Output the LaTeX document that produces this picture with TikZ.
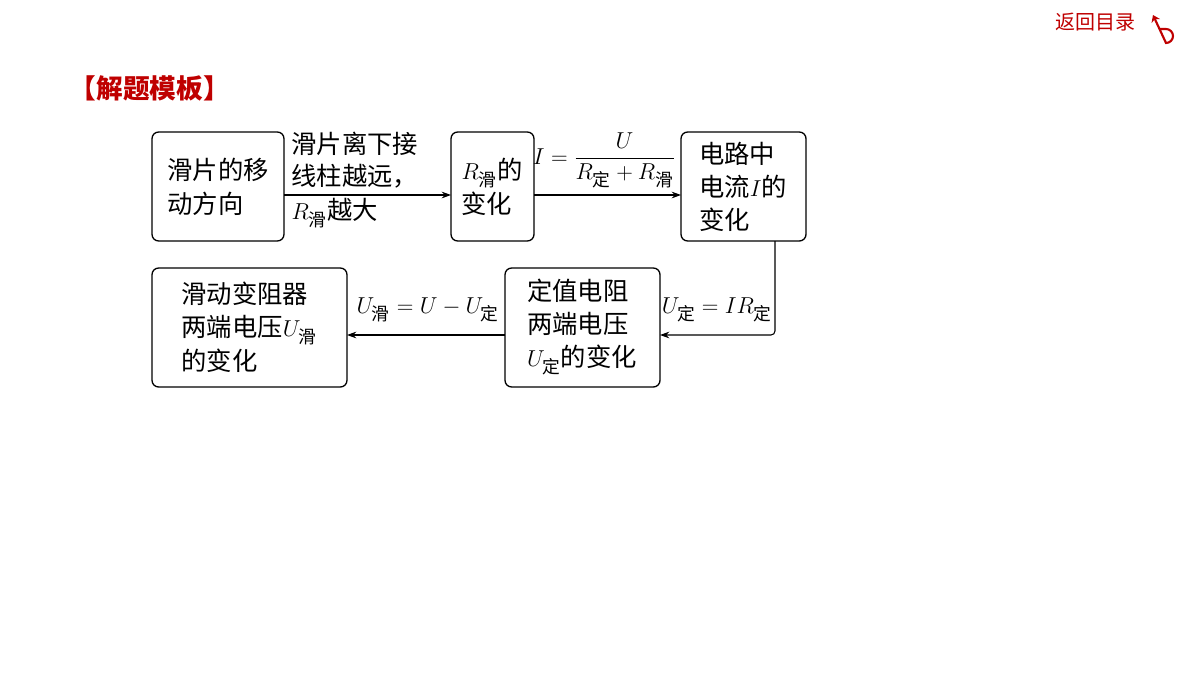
\documentclass[tikz,border=0pt]{standalone}
\usepackage{amsmath}
\usepackage{fontspec}
\setmainfont{Noto Sans CJK SC}
\usetikzlibrary{arrows.meta}
\newcommand{\hua}{\text{滑}}
\newcommand{\ding}{\text{定}}
\begin{document}
\begin{tikzpicture}[x=0.75pt,y=-0.75pt,
  box/.style={draw,line width=1pt,rounded corners=5pt,inner sep=0pt},
  txt/.style={font=\fontsize{19}{25}\selectfont,align=left},
  arr/.style={-{Stealth[length=7pt,width=5pt]},line width=0.8pt},
  lab/.style={font=\fontsize{19}{24}\selectfont,align=left,inner sep=1pt}]
\useasboundingbox (0,0) rectangle (1200,675);
\node[text=red!75!black,font=\fontsize{20}{24}\selectfont\bfseries,anchor=west] (title) at (65,88) {【解题模板】};
\node[text=red!75!black,font=\fontsize{15}{18}\selectfont,anchor=east] (back) at (1140,22) {返回目录};
\draw[red!75!black,line width=1.6pt,-{Stealth[length=5pt,width=7pt]}] (1160,29) -- (1166,29) arc (-90:90:7) -- (1153,15);
% boxes
\draw[box] (152,132) rectangle (284,241);
\node[txt] (b1) at (218,187) {滑片的移\\动方向};
\draw[box] (451,132) rectangle (534,241);
\node[txt] (b2) at (492,187) {$R_{\hua}$的\\变化};
\draw[box] (681,132) rectangle (806,241);
\node[txt] (b3) at (743,187) {电路中\\电流$I$的\\变化};
\draw[box] (505,268) rectangle (660,387);
\node[txt] (b4) at (582,327) {定值电阻\\两端电压\\$U_{\ding}$的变化};
\draw[box] (152,268) rectangle (347,387);
\node[txt] (b5) at (249,327) {滑动变阻器\\两端电压$U_{\hua}$\\的变化};
\coordinate (a1s) at (284,195); \coordinate (a1e) at (451,195);
\draw[arr] (a1s) -- (a1e);
\node[lab,anchor=south west] (l1) at (290,190) {滑片离下接\\线柱越远，};
\node[lab,anchor=north west] (l1b) at (290,197) {$R_{\hua}$越大};
\coordinate (a2s) at (534,195); \coordinate (a2e) at (681,195);
\draw[arr] (a2s) -- (a2e);
\node[lab,anchor=south] (l2) at (604,190) {$I=\dfrac{U}{R_{\ding}+R_{\hua}}$};
\coordinate (c1) at (775,241); \coordinate (c2) at (775,335); \coordinate (c3) at (660,335);
\draw[arr,rounded corners=3pt] (c1) -- (c2) -- (c3);
\node[lab] (l3) at (717,310) {$U_{\ding}=IR_{\ding}$};
\coordinate (a4s) at (505,335); \coordinate (a4e) at (347,335);
\draw[arr] (a4s) -- (a4e);
\node[lab] (l4) at (428,310) {$U_{\hua}=U-U_{\ding}$};
\end{tikzpicture}
\end{document}
